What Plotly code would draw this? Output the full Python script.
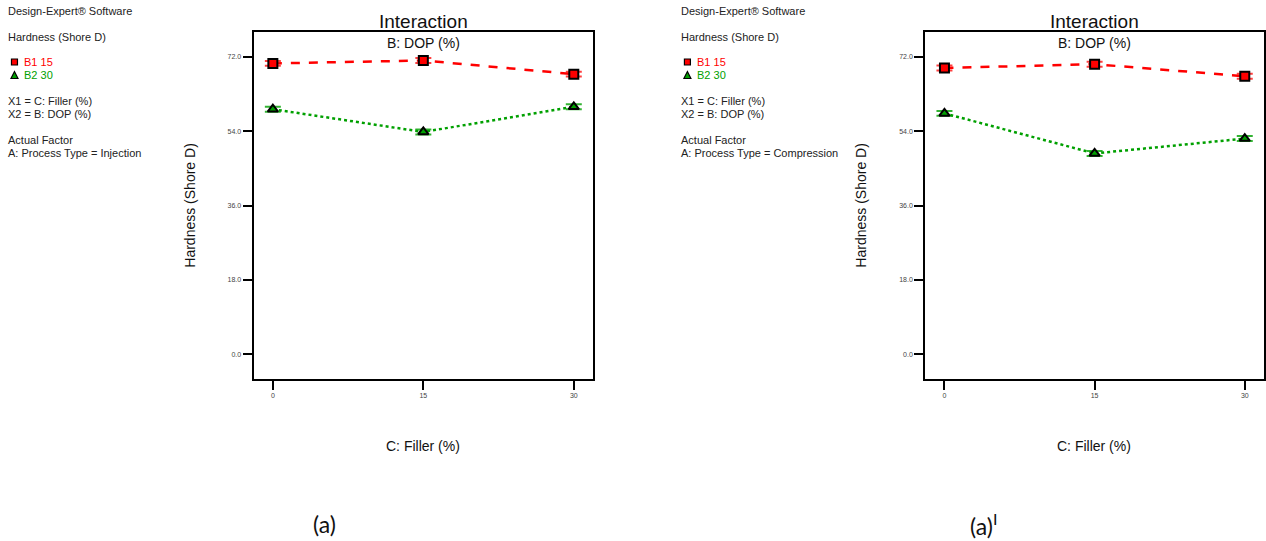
import plotly.graph_objects as go

W, H = 1266, 541

filler = [0, 15, 30]
tick_vals_y = [0, 18, 36, 54, 72]
tick_text_y = ["0.0", "18.0", "36.0", "54.0", "72.0"]
tick_text_x = ["0", "15", "30"]

# Panel (a): Injection
inj_b1 = [70.4, 71.1, 67.8]
inj_b2 = [59.3, 53.8, 59.9]
# Panel (a)': Compression
comp_b1 = [69.3, 70.2, 67.3]
comp_b2 = [58.3, 48.6, 52.2]
err = [0.6, 0.6, 0.6]

RED = "#ff0000"
GREEN = "#00a000"
FONT = "Liberation Sans, Arial, sans-serif"


def px(x):
    return x / W


def py(y):
    return 1 - y / H


fig = go.Figure()


def add_panel(xa, ya, b1, b2):
    fig.add_trace(go.Scatter(
        x=filler, y=b1, mode="lines+markers", xaxis=xa, yaxis=ya,
        line=dict(color=RED, width=2.5, dash="dash"),
        marker=dict(symbol="square", size=9, color=RED, line=dict(color="black", width=2)),
        error_y=dict(type="data", array=err, color="rgba(255,0,0,0.75)", thickness=2, width=8),
        showlegend=False))
    fig.add_trace(go.Scatter(
        x=filler, y=b2, mode="lines+markers", xaxis=xa, yaxis=ya,
        line=dict(color=GREEN, width=2.5, dash="dot"),
        marker=dict(symbol="triangle-up", size=9, color=GREEN, line=dict(color="black", width=2)),
        error_y=dict(type="data", array=err, color="rgba(0,160,0,0.8)", thickness=2, width=8),
        showlegend=False))


add_panel("x", "y", inj_b1, inj_b2)
add_panel("x2", "y2", comp_b1, comp_b2)

axis_common = dict(showline=True, mirror=True, linewidth=2, linecolor="black",
                   showgrid=False, zeroline=False, ticks="outside", ticklen=9,
                   tickwidth=2, tickcolor="black",
                   tickfont=dict(size=7, color="#444444", family=FONT))

ylo, yhi = -6, 78
xlo, xhi = -1.92, 31.92
dom_y = [py(379), py(32)]

fig.update_layout(
    width=W, height=H, margin=dict(l=0, r=0, t=0, b=0),
    paper_bgcolor="white", plot_bgcolor="white",
    xaxis=dict(domain=[px(254), px(594)], range=[xlo, xhi], tickvals=filler,
               ticktext=tick_text_x, anchor="y", **axis_common),
    yaxis=dict(domain=dom_y, range=[ylo, yhi], tickvals=tick_vals_y,
               ticktext=tick_text_y, anchor="x", **axis_common),
    xaxis2=dict(domain=[px(926.7), 1.0], range=[xlo, xhi], tickvals=filler,
                ticktext=tick_text_x, anchor="y2", **axis_common),
    yaxis2=dict(domain=dom_y, range=[ylo, yhi], tickvals=tick_vals_y,
                ticktext=tick_text_y, anchor="x2", **axis_common),
)

annotations = []
shapes = []


def txt(x, y, s, size=11, color="#222222", xanchor="left", angle=0, family=FONT):
    annotations.append(dict(x=px(x), y=py(y), xref="paper", yref="paper", text=s,
                            showarrow=False, xanchor=xanchor, yanchor="middle",
                            textangle=angle, font=dict(size=size, color=color, family=family)))


def info_block(x0, factor):
    txt(x0 - 2, 11, "Design-Expert® Software")
    txt(x0 - 2, 37, "Hardness (Shore D)")
    txt(x0 + 14, 62, "B1 15", color=RED)
    txt(x0 + 14, 75, "B2 30", color=GREEN)
    txt(x0 - 2, 101, "X1 = C: Filler (%)")
    txt(x0 - 2, 114, "X2 = B: DOP (%)")
    txt(x0 - 2, 140, "Actual Factor")
    txt(x0 - 2, 153, factor)
    cx = x0 + 6.5
    shapes.append(dict(type="rect", xref="paper", yref="paper",
                       x0=px(cx - 3), x1=px(cx + 3), y0=py(62 + 3), y1=py(62 - 3),
                       fillcolor=RED, line=dict(color="black", width=1.2)))
    shapes.append(dict(type="path", xref="paper", yref="paper",
                       path=f"M {px(cx-3.5)} {py(78.5)} L {px(cx+3.5)} {py(78.5)} L {px(cx)} {py(71.5)} Z",
                       fillcolor=GREEN, line=dict(color="black", width=1.2)))


info_block(8, "A: Process Type = Injection")
info_block(682, "A: Process Type = Compression")

for cx, ytx in [(424, 190), (1096, 862)]:
    txt(cx, 21, "Interaction", size=19, color="#111111", xanchor="center")
    txt(cx, 42.5, "B: DOP (%)", size=14, color="#111111", xanchor="center")
    txt(cx, 446, "C: Filler (%)", size=14, color="#111111", xanchor="center")
    txt(ytx, 205, "Hardness (Shore D)", size=14, color="#111111", xanchor="center", angle=-90)

txt(325, 524, "(a)", size=23, color="#111111", xanchor="center", family="Lato, Open Sans, sans-serif")
txt(985, 524, "(a)<sup>I</sup>", size=23, color="#111111", xanchor="center", family="Lato, Open Sans, sans-serif")

fig.update_layout(annotations=annotations, shapes=shapes)

fig.write_html("out.html", config={"displayModeBar": False},
               post_script="document.body.style.margin='0px';document.body.style.padding='0px';")
